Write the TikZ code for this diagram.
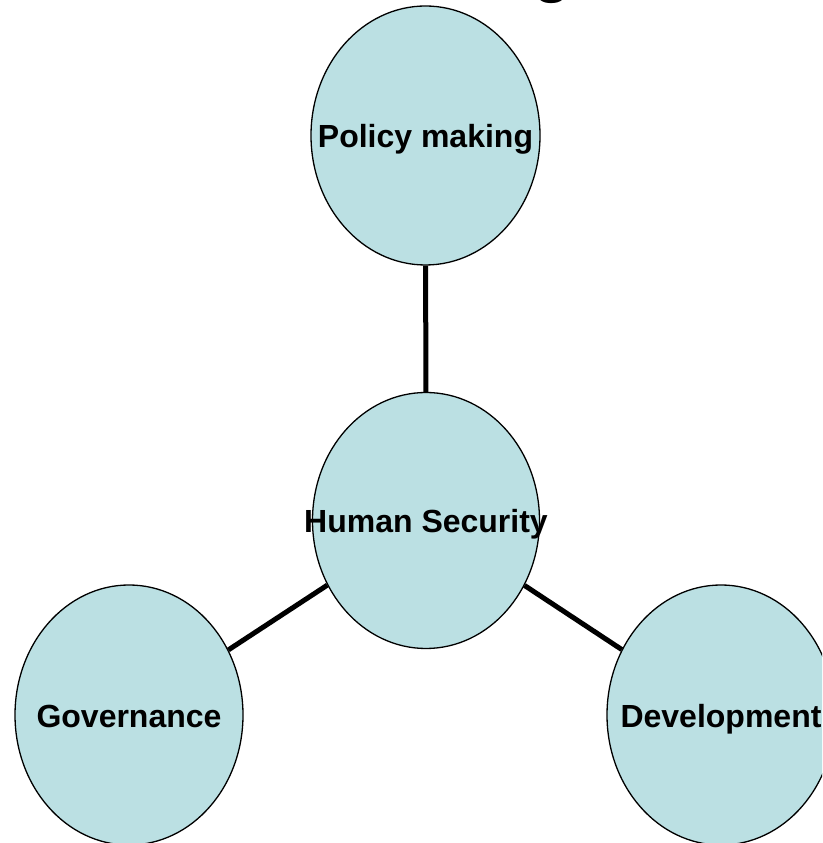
\documentclass[tikz,border=0pt]{standalone}
\usepackage{fontspec}
\setmainfont{Liberation Sans}
\usetikzlibrary{shapes.geometric}
\definecolor{bubble}{HTML}{BBE0E3}
\begin{document}
\begin{tikzpicture}[x=1pt,y=1pt,
  bubble/.style={ellipse,draw=black,line width=1.3pt,fill=bubble,inner sep=0pt,
    minimum width=229pt,minimum height=259pt},
  lbl/.style={font=\bfseries\fontsize{32}{36}\selectfont,inner sep=0pt,anchor=base,yshift=-12.5pt},
  link/.style={line width=5pt,black}]
\useasboundingbox (0,0) rectangle (822,843);
\clip (0,0) rectangle (822,843);
\node[font=\bfseries\fontsize{62}{70}\selectfont,anchor=base,inner sep=0pt] (title) at (552,852) {g};
\node[bubble] (pol) at (425.5,707.5) {};
\node[bubble,minimum width=227pt,minimum height=256pt] (hs) at (426,322.5) {};
\node[bubble,minimum width=228pt,minimum height=260pt] (gov) at (129,128) {};
\node[bubble,minimum width=228pt,minimum height=260pt] (dev) at (721,128) {};
\draw[link] (pol) -- (hs);
\draw[link] (hs) -- (gov);
\draw[link] (hs) -- (dev);
\node[lbl] (tpol) at (pol.center) {Policy making};
\node[lbl] (ths) at (hs.center) {Human Security};
\node[lbl] (tgov) at (gov.center) {Governance};
\node[lbl] (tdev) at (dev.center) {Development};
\end{tikzpicture}
\end{document}
